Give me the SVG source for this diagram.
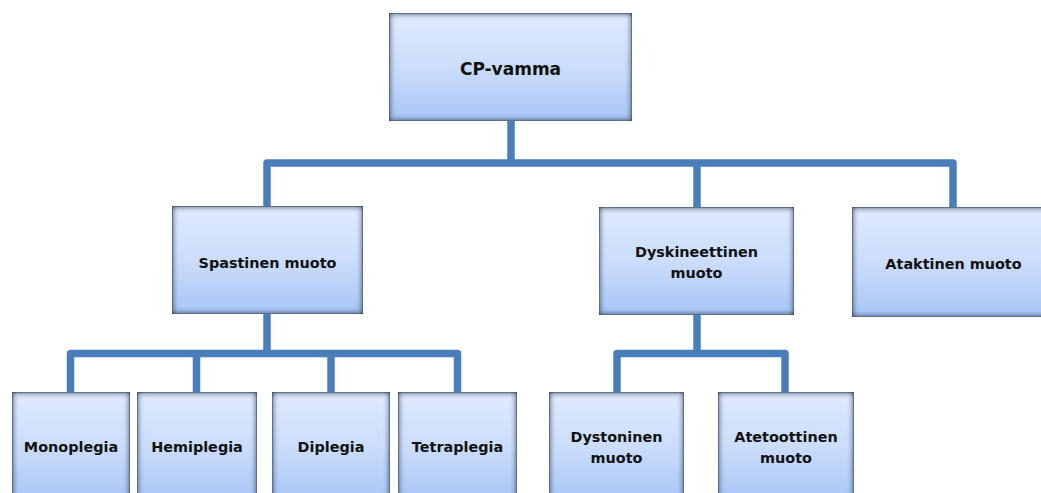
<svg xmlns="http://www.w3.org/2000/svg" width="1041" height="493" viewBox="0 0 1041 493">
  <style>
    .box { fill: url(#boxFill); stroke: #8ea8cf; stroke-width: 1; filter: url(#innerShade); }
    .lbl { font-family: "DejaVu Sans", Verdana, sans-serif; font-weight: bold; font-size: 14.4px; fill: #111111; text-anchor: middle; }
    .root { font-size: 17px; }
    .conn { fill: none; stroke: #4a7ebb; stroke-width: 7.5; stroke-linejoin: round; stroke-linecap: butt; }
  </style>
  <defs>
    <linearGradient id="boxFill" x1="0" y1="0" x2="0" y2="1">
      <stop offset="0" stop-color="#dfeafd"/>
      <stop offset="0.5" stop-color="#cbddfb"/>
      <stop offset="1" stop-color="#a7c5f6"/>
    </linearGradient>
    <!-- darkened inner rim of each box -->
    <filter id="innerShade" x="-10%" y="-10%" width="120%" height="120%" color-interpolation-filters="sRGB">
      <feFlood flood-color="#202a40" flood-opacity="1" result="ink"/>
      <feComposite in="ink" in2="SourceAlpha" operator="out" result="outside"/>
      <feGaussianBlur in="outside" stdDeviation="3.2" result="soft"/>
      <feComposite in="soft" in2="SourceAlpha" operator="in" result="inner"/>
      <feMerge>
        <feMergeNode in="SourceGraphic"/>
        <feMergeNode in="inner"/>
      </feMerge>
    </filter>
  </defs>

  <g id="connectors">
    <path class="conn" d="M511,120 V163"/>
    <path class="conn" d="M267,206 V163 H953 V207"/>
    <path class="conn" d="M697,163 V207"/>
    <path class="conn" d="M267,314 V353.5"/>
    <path class="conn" d="M70.5,392 V353.5 H457.5 V392"/>
    <path class="conn" d="M196.5,353.5 V392"/>
    <path class="conn" d="M331,353.5 V392"/>
    <path class="conn" d="M697,314 V353.5"/>
    <path class="conn" d="M617,392 V353.5 H785 V392"/>
  </g>

  <g id="cp-vamma">
    <rect class="box" x="389.5" y="13.5" width="242" height="107"/>
    <text class="lbl root" x="510.5" y="75">CP-vamma</text>
  </g>

  <g id="spastinen">
    <rect class="box" x="172.5" y="206.5" width="190" height="107"/>
    <text class="lbl" x="267.5" y="267.5">Spastinen muoto</text>
  </g>

  <g id="dyskineettinen">
    <rect class="box" x="599.5" y="207.5" width="194" height="107"/>
    <text class="lbl" x="696.5" y="257">Dyskineettinen</text>
    <text class="lbl" x="696.5" y="278">muoto</text>
  </g>

  <g id="ataktinen">
    <rect class="box" x="852.5" y="207.5" width="196" height="109"/>
    <text class="lbl" x="953.5" y="268.5">Ataktinen muoto</text>
  </g>

  <g id="monoplegia">
    <rect class="box" x="12.5" y="392.5" width="117" height="108"/>
    <text class="lbl" x="71" y="452">Monoplegia</text>
  </g>

  <g id="hemiplegia">
    <rect class="box" x="137.5" y="392.5" width="119" height="108"/>
    <text class="lbl" x="197" y="452">Hemiplegia</text>
  </g>

  <g id="diplegia">
    <rect class="box" x="272.5" y="392.5" width="117" height="108"/>
    <text class="lbl" x="331" y="452">Diplegia</text>
  </g>

  <g id="tetraplegia">
    <rect class="box" x="398.5" y="392.5" width="118" height="108"/>
    <text class="lbl" x="457.5" y="452">Tetraplegia</text>
  </g>

  <g id="dystoninen">
    <rect class="box" x="549.5" y="392.5" width="134" height="108"/>
    <text class="lbl" x="616.5" y="442">Dystoninen</text>
    <text class="lbl" x="616.5" y="463">muoto</text>
  </g>

  <g id="atetoottinen">
    <rect class="box" x="718.5" y="392.5" width="135" height="108"/>
    <text class="lbl" x="786" y="442">Atetoottinen</text>
    <text class="lbl" x="786" y="463">muoto</text>
  </g>
</svg>
